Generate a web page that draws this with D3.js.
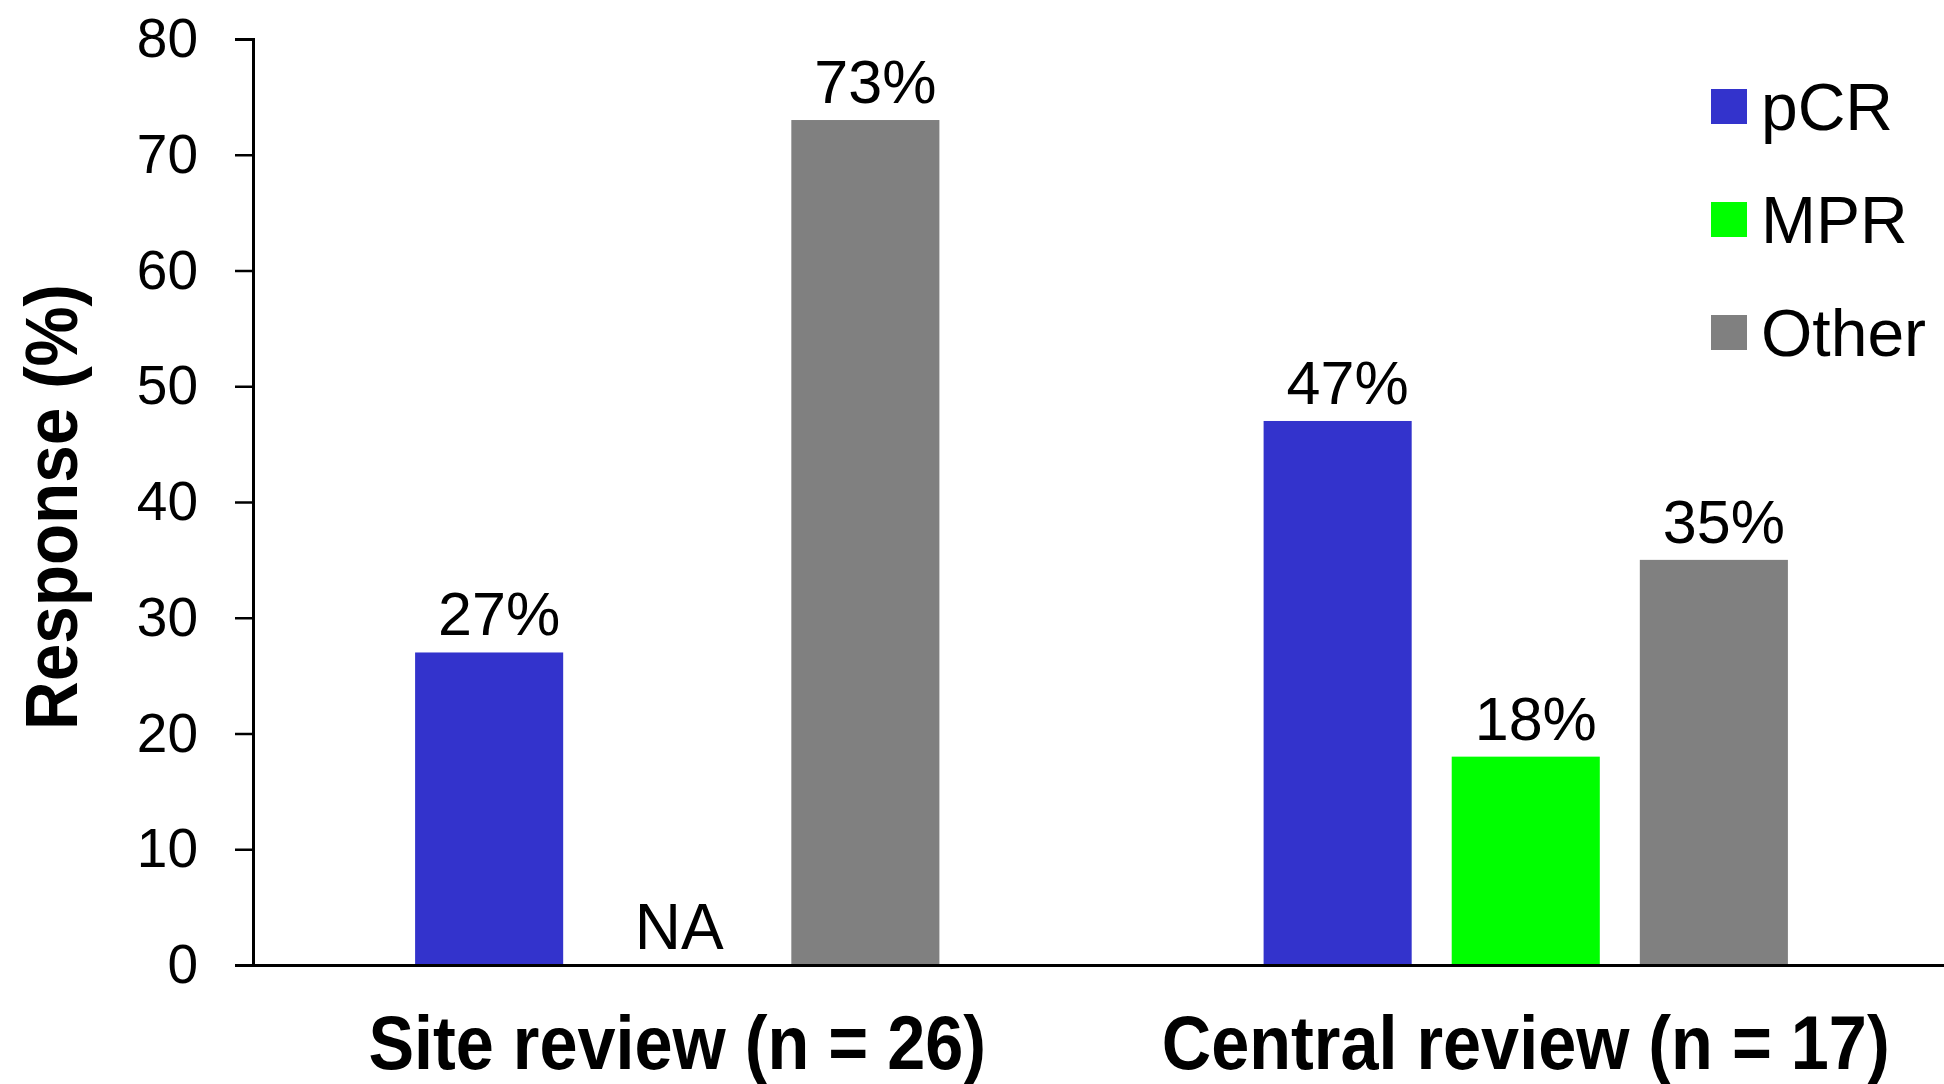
<!DOCTYPE html>
<html>
<head>
<meta charset="utf-8">
<script src="https://cdn.jsdelivr.net/npm/d3@7"></script>
<style>
  html, body { margin: 0; padding: 0; background: #ffffff; }
  svg { display: block; }
  text { font-family: "Liberation Sans", Arial, sans-serif; fill: #000; }
</style>
</head>
<body>
<div id="chart"></div>
<script>
// Response rates by review type
const groups = ["Site review (n = 26)", "Central review (n = 17)"];
const seriesNames = ["pCR", "MPR", "Other"];
const seriesColors = ["#3333CC", "#00FF00", "#808080"];
const pCR = [27, 47];
const MPR = [null, 18];     // not assessed at site review
const Other = [73, 35];
const yTicks = [0, 10, 20, 30, 40, 50, 60, 70, 80];

const W = 1944, H = 1084;
const margin = { top: 39, right: -6, bottom: 119, left: 253 };

const svg = d3.select("#chart").append("svg")
  .attr("width", W).attr("height", H);

const rows = groups.map((g, i) => ({
  group: g,
  values: [pCR[i], MPR[i], Other[i]]
}));

const x0 = d3.scaleBand()
  .domain(groups)
  .range([margin.left, W - margin.right])
  .paddingInner(0).paddingOuter(0);

const x1 = d3.scaleBand()
  .domain(seriesNames)
  .range([0, x0.bandwidth()])
  .paddingInner(0.2128)
  .paddingOuter(0.8617);

const y = d3.scaleLinear()
  .domain([0, 80])
  .range([H - margin.bottom, margin.top]);

const color = d3.scaleOrdinal().domain(seriesNames).range(seriesColors);

// bars
const g = svg.append("g");
const groupSel = g.selectAll("g.grp").data(rows).join("g")
  .attr("class", "grp")
  .attr("transform", d => `translate(${x0(d.group)},0)`);

const cells = groupSel.selectAll("g.cell")
  .data(d => seriesNames.map((s, j) => ({ key: s, value: d.values[j] })))
  .join("g").attr("class", "cell");

cells.filter(d => d.value != null).append("rect")
  .attr("x", d => x1(d.key))
  .attr("width", x1.bandwidth())
  .attr("y", d => y(d.value))
  .attr("height", d => y(0) - y(d.value))
  .attr("fill", d => color(d.key));

// value labels ("NA" where a series was not assessed)
cells.append("text")
  .attr("x", d => x1(d.key) + x1.bandwidth() / 2 + (d.value != null ? 10 : 2))
  .attr("y", d => d.value != null ? y(d.value) - 17 : y(0) - 16)
  .attr("text-anchor", "middle")
  .style("font-size", d => d.value != null ? "61px" : "64px")
  .text(d => d.value != null ? d.value + "%" : "NA");

// y axis
const yAxis = d3.axisLeft(y).tickValues(yTicks).tickSize(18).tickPadding(37).tickSizeOuter(18);
const yg = svg.append("g")
  .attr("transform", `translate(${margin.left},0)`)
  .call(yAxis);
yg.select(".domain").attr("stroke", "#000").attr("stroke-width", 3);
yg.selectAll(".tick line").attr("stroke", "#000").attr("stroke-width", 2.5);
yg.selectAll(".tick text")
  .style("font-family", "'Liberation Sans', Arial, sans-serif")
  .style("font-size", "55px").attr("fill", "#000");

// x axis baseline (no ticks)
const xg = svg.append("g")
  .attr("transform", `translate(0,${y(0)})`)
  .call(d3.axisBottom(x0).tickSize(0).tickPadding(0));
xg.select(".domain").attr("stroke", "#000").attr("stroke-width", 3);
xg.selectAll(".tick text").remove();

// category labels (bold, slightly condensed)
svg.append("g").selectAll("text").data(groups).join("text")
  .attr("transform", d => `translate(${x0(d) + x0.bandwidth() / 2},1069) scale(0.9,1)`)
  .attr("text-anchor", "middle")
  .style("font-size", "76px").style("font-weight", "bold")
  .text(d => d);

// y axis title
svg.append("text")
  .attr("transform", "translate(77,507) rotate(-90) scale(0.9,1)")
  .attr("text-anchor", "middle")
  .style("font-size", "75px").style("font-weight", "bold")
  .text("Response (%)");

// legend
const legend = svg.append("g").attr("transform", "translate(1711,89)");
const li = legend.selectAll("g").data(seriesNames).join("g")
  .attr("transform", (d, i) => `translate(0,${i * 113})`);
li.append("rect").attr("width", 36).attr("height", 35).attr("fill", d => color(d));
li.append("text").attr("x", 50).attr("y", 41)
  .style("font-size", "66px").text(d => d);
</script>
</body>
</html>
